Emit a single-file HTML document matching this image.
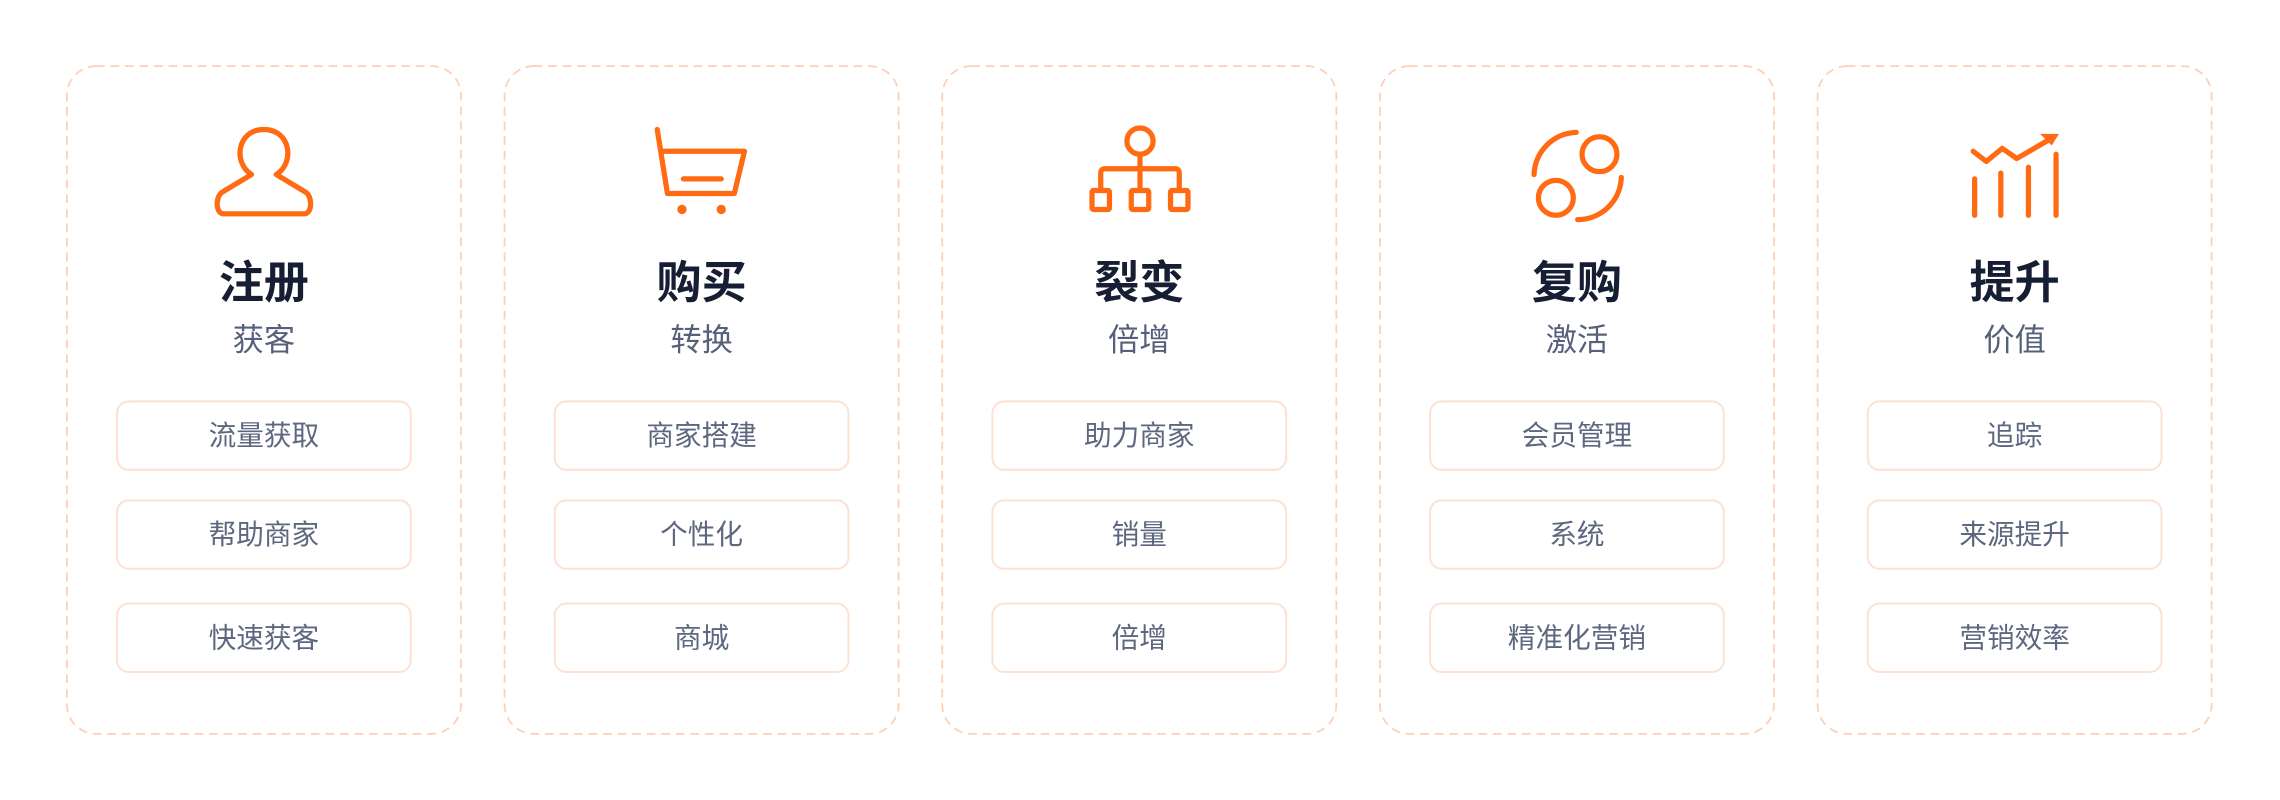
<!DOCTYPE html>
<html><head><meta charset="utf-8"><style>
html,body{margin:0;padding:0;background:#fff;}
svg{display:block;}
text{font-family:"Liberation Sans","Noto Sans CJK SC",sans-serif;text-anchor:middle;}
.t{font-size:31px;font-weight:700;fill:#161e33;}
.s{font-size:21.5px;fill:#56607a;}
.p{font-size:19px;fill:#5d6780;}
.card{fill:none;stroke:#fdcfb5;stroke-width:1.2;stroke-dasharray:6 4;}
.pill{fill:#fff;stroke:#fde2d4;stroke-width:1.4;}
.ic{fill:none;stroke:#ff6a13;stroke-width:3.6;stroke-linecap:round;stroke-linejoin:round;}
</style></head><body>
<svg width="2280" height="800" viewBox="0 0 1568 550" preserveAspectRatio="none" xmlns="http://www.w3.org/2000/svg">
<rect width="1568" height="550" fill="#fff"/>
<!-- cards -->
<rect class="card" x="46" y="45.5" width="271" height="459" rx="20"/>
<rect class="card" x="347" y="45.5" width="271" height="459" rx="20"/>
<rect class="card" x="648" y="45.5" width="271" height="459" rx="20"/>
<rect class="card" x="949" y="45.5" width="271" height="459" rx="20"/>
<rect class="card" x="1250" y="45.5" width="271" height="459" rx="20"/>

<!-- icons -->
<path class="ic" d="M173 120 C160 112 163 89 181.5 89 C200 89 203 112 190 120 L210 132 C215 135 215 147 209 147 L154 147 C148 147 148 135 153 132 Z"/>
<g class="ic">
<path d="M452 89 L459 133 L505 133 L512 104 L456 104"/>
<line x1="470" y1="123" x2="496" y2="123"/>
</g>
<circle cx="469" cy="144" r="3.2" fill="#ff6a13"/>
<circle cx="496" cy="144" r="3.2" fill="#ff6a13"/>
<g class="ic">
<circle cx="784" cy="97" r="9"/>
<path d="M784 106 L784 131 M757 131 L757 119 Q757 116 760 116 L808 116 Q811 116 811 119 L811 131"/>
<rect x="751" y="131" width="12" height="13" rx="1"/>
<rect x="778" y="131" width="12" height="13" rx="1"/>
<rect x="805" y="131" width="12" height="13" rx="1"/>
</g>
<g class="ic">
<circle cx="1100" cy="106" r="12"/>
<circle cx="1070" cy="136" r="12"/>
<path d="M1084 91 A30 30 0 0 0 1055 120"/>
<path d="M1115 122 A30 30 0 0 1 1085 151"/>
</g>
<g class="ic">
<line x1="1358" y1="123" x2="1358" y2="148"/>
<line x1="1376" y1="119" x2="1376" y2="148"/>
<line x1="1395" y1="115" x2="1395" y2="148"/>
<line x1="1414" y1="106" x2="1414" y2="148"/>
<path d="M1357 104 L1366 111 L1377 102 L1387 109 L1411 95"/>
</g>
<path d="M1403 92 L1416 92 L1411 100 Z" fill="#ff6a13"/>

<!-- titles -->
<text class="t" x="181.5" y="205">注册</text>
<text class="t" x="482.5" y="205">购买</text>
<text class="t" x="783.5" y="205">裂变</text>
<text class="t" x="1084.5" y="205">复购</text>
<text class="t" x="1385.5" y="205">提升</text>
<text class="s" x="181.5" y="241">获客</text>
<text class="s" x="482.5" y="241">转换</text>
<text class="s" x="783.5" y="241">倍增</text>
<text class="s" x="1084.5" y="241">激活</text>
<text class="s" x="1385.5" y="241">价值</text>

<!-- pills -->
<g>
<rect class="pill" x="80.5" y="276" width="202" height="47" rx="8"/>
<rect class="pill" x="80.5" y="344" width="202" height="47" rx="8"/>
<rect class="pill" x="80.5" y="415" width="202" height="47" rx="8"/>
<rect class="pill" x="381.5" y="276" width="202" height="47" rx="8"/>
<rect class="pill" x="381.5" y="344" width="202" height="47" rx="8"/>
<rect class="pill" x="381.5" y="415" width="202" height="47" rx="8"/>
<rect class="pill" x="682.5" y="276" width="202" height="47" rx="8"/>
<rect class="pill" x="682.5" y="344" width="202" height="47" rx="8"/>
<rect class="pill" x="682.5" y="415" width="202" height="47" rx="8"/>
<rect class="pill" x="983.5" y="276" width="202" height="47" rx="8"/>
<rect class="pill" x="983.5" y="344" width="202" height="47" rx="8"/>
<rect class="pill" x="983.5" y="415" width="202" height="47" rx="8"/>
<rect class="pill" x="1284.5" y="276" width="202" height="47" rx="8"/>
<rect class="pill" x="1284.5" y="344" width="202" height="47" rx="8"/>
<rect class="pill" x="1284.5" y="415" width="202" height="47" rx="8"/>
</g>
<text class="p" x="181.5" y="306">流量获取</text>
<text class="p" x="181.5" y="374">帮助商家</text>
<text class="p" x="181.5" y="445">快速获客</text>
<text class="p" x="482.5" y="306">商家搭建</text>
<text class="p" x="482.5" y="374">个性化</text>
<text class="p" x="482.5" y="445">商城</text>
<text class="p" x="783.5" y="306">助力商家</text>
<text class="p" x="783.5" y="374">销量</text>
<text class="p" x="783.5" y="445">倍增</text>
<text class="p" x="1084.5" y="306">会员管理</text>
<text class="p" x="1084.5" y="374">系统</text>
<text class="p" x="1084.5" y="445">精准化营销</text>
<text class="p" x="1385.5" y="306">追踪</text>
<text class="p" x="1385.5" y="374">来源提升</text>
<text class="p" x="1385.5" y="445">营销效率</text>
</svg>
</body></html>
